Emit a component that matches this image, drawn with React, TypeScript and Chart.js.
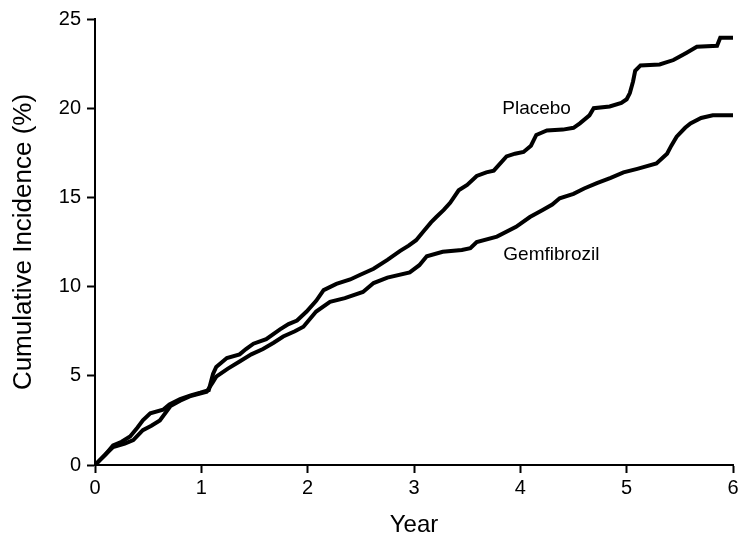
import React, { useEffect, useRef } from "react";
import { Chart, registerables } from "chart.js";

Chart.register(...registerables);

const xTicks = [0, 1, 2, 3, 4, 5, 6];
const yTicks = [0, 5, 10, 15, 20, 25];

const placeboYears = [
  0, 0.05, 0.1, 0.17, 0.25, 0.33, 0.4, 0.45, 0.52, 0.64, 0.7, 0.8, 0.9, 0.99,
  1.07, 1.11, 1.14, 1.24, 1.36, 1.42, 1.49, 1.61, 1.74, 1.82, 1.9, 1.99, 2.08,
  2.15, 2.27, 2.4, 2.49, 2.62, 2.75, 2.87, 2.95, 3.02, 3.09, 3.16, 3.21, 3.28,
  3.34, 3.42, 3.5, 3.59, 3.68, 3.75, 3.87, 3.95, 4.03, 4.1, 4.15, 4.25, 4.4,
  4.5, 4.56, 4.65, 4.69, 4.84, 4.95, 5.0, 5.03, 5.06, 5.08, 5.13, 5.31, 5.44,
  5.5, 5.56, 5.66, 5.85, 5.88, 6.0,
];
const placeboValues = [
  0, 0.3, 0.6, 1.1, 1.3, 1.6, 2.1, 2.5, 2.9, 3.1, 3.4, 3.7, 3.9, 4.05, 4.2,
  5.1, 5.5, 6.0, 6.2, 6.5, 6.8, 7.05, 7.6, 7.9, 8.1, 8.6, 9.2, 9.8, 10.15,
  10.4, 10.65, 11.0, 11.5, 12.0, 12.3, 12.6, 13.1, 13.6, 13.9, 14.3, 14.7,
  15.4, 15.7, 16.2, 16.4, 16.5, 17.3, 17.45, 17.55, 17.9, 18.5, 18.75, 18.8,
  18.9, 19.15, 19.6, 20.0, 20.1, 20.3, 20.5, 20.85, 21.5, 22.1, 22.4, 22.45,
  22.7, 22.9, 23.1, 23.45, 23.5, 23.95, 23.95,
];

const gemYears = [
  0, 0.05, 0.1, 0.17, 0.28, 0.36, 0.45, 0.53, 0.61, 0.71, 0.8, 0.89, 1.05,
  1.11, 1.14, 1.25, 1.36, 1.47, 1.58, 1.68, 1.77, 1.88, 1.96, 2.08, 2.21,
  2.35, 2.52, 2.62, 2.75, 2.96, 3.05, 3.12, 3.27, 3.45, 3.53, 3.59, 3.78,
  3.96, 4.09, 4.21, 4.3, 4.37, 4.5, 4.6, 4.72, 4.85, 4.97, 5.1, 5.28, 5.38,
  5.42, 5.47, 5.55, 5.6, 5.7, 5.81, 6.0,
];
const gemValues = [
  0, 0.3, 0.6, 1.0, 1.2, 1.4, 1.95, 2.2, 2.5, 3.3, 3.6, 3.85, 4.1, 4.65, 4.95,
  5.4, 5.8, 6.2, 6.5, 6.85, 7.2, 7.5, 7.75, 8.6, 9.15, 9.35, 9.7, 10.2, 10.5,
  10.8, 11.2, 11.7, 11.95, 12.05, 12.15, 12.5, 12.8, 13.35, 13.9, 14.3, 14.6,
  14.95, 15.2, 15.5, 15.8, 16.1, 16.4, 16.6, 16.9, 17.45, 17.9, 18.4, 18.9,
  19.15, 19.45, 19.6, 19.6,
];

const seriesNames = ["Placebo", "Gemfibrozil"];
const labelAnchors = [
  { x: 3.83, y: 19.95 },
  { x: 3.84, y: 11.77 },
];

const FONT = "'Liberation Sans', Arial, Helvetica, sans-serif";

const seriesLabelPlugin = {
  id: "seriesLabels",
  afterDatasetsDraw(chart: any) {
    const { ctx, scales } = chart;
    ctx.save();
    ctx.fillStyle = "#000";
    ctx.font = `19px ${FONT}`;
    ctx.textAlign = "left";
    ctx.textBaseline = "middle";
    seriesNames.forEach((name, i) => {
      const a = labelAnchors[i];
      ctx.fillText(name, scales.x.getPixelForValue(a.x), scales.y.getPixelForValue(a.y));
    });
    ctx.restore();
  },
};

export default function App() {
  const ref = useRef<HTMLCanvasElement | null>(null);
  useEffect(() => {
    document.body.style.margin = "0";
    if (!ref.current) return;
    const toPts = (xs: number[], ys: number[]) => xs.map((x, i) => ({ x, y: ys[i] }));
    const lineStyle = {
      borderColor: "#000",
      borderWidth: 4,
      pointRadius: 0,
      stepped: false,
      tension: 0,
      fill: false,
      borderJoinStyle: "miter" as const,
    };
    const chart = new Chart(ref.current, {
      type: "line",
      data: {
        datasets: [
          { label: seriesNames[0], data: toPts(placeboYears, placeboValues), ...lineStyle },
          { label: seriesNames[1], data: toPts(gemYears, gemValues), ...lineStyle },
        ],
      },
      options: {
        animation: false,
        responsive: true,
        maintainAspectRatio: false,
        layout: { padding: { top: 19, right: 5, left: 0, bottom: 0 } },
        plugins: { legend: { display: false }, tooltip: { enabled: false } },
        scales: {
          x: {
            type: "linear",
            min: 0,
            max: 6,
            afterFit: (s: any) => {
              s.height = 72;
              s.paddingRight = 0;
              s.paddingLeft = 0;
            },
            afterBuildTicks: (s: any) => {
              s.ticks = xTicks.map((v) => ({ value: v }));
            },
            ticks: { color: "#000", font: { family: FONT, size: 20 }, padding: 3 },
            grid: {
              display: true,
              drawOnChartArea: false,
              drawTicks: true,
              tickLength: 8,
              tickWidth: 2,
              tickColor: "#000",
            },
            border: { display: true, color: "#000", width: 2 },
            title: {
              display: true,
              text: "Year",
              color: "#000",
              font: { family: FONT, size: 24, lineHeight: 1 },
              padding: { top: 0, bottom: 0 },
            },
          },
          y: {
            type: "linear",
            min: 0,
            max: 25,
            afterFit: (s: any) => {
              s.width = 95;
              s.paddingTop = 0;
              s.paddingBottom = 0;
            },
            afterBuildTicks: (s: any) => {
              s.ticks = yTicks.map((v) => ({ value: v }));
            },
            ticks: { color: "#000", font: { family: FONT, size: 20 }, padding: 6 },
            grid: {
              display: true,
              drawOnChartArea: false,
              drawTicks: true,
              tickLength: 8,
              tickWidth: 2,
              tickColor: "#000",
            },
            border: { display: true, color: "#000", width: 2 },
            title: {
              display: true,
              text: "Cumulative Incidence (%)",
              color: "#000",
              font: { family: FONT, size: 26, lineHeight: 1 },
              padding: { top: 11, bottom: 0 },
            },
          },
        },
      },
      plugins: [seriesLabelPlugin],
    });
    return () => chart.destroy();
  }, []);
  return (
    <div style={{ width: 738, height: 537, position: "relative" }}>
      <canvas ref={ref} />
    </div>
  );
}
